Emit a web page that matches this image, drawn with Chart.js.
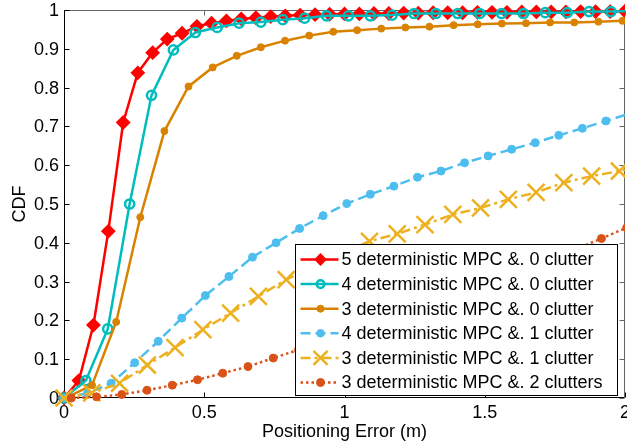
<!DOCTYPE html>
<html>
<head>
<meta charset="utf-8">
<script src="https://cdn.jsdelivr.net/npm/chart.js@4.4.1/dist/chart.umd.min.js"></script>
<style>
html, body { margin: 0; padding: 0; background: #fff; }
</style>
</head>
<body>
<canvas id="cdfChart" width="627" height="447"></canvas>
<script>
// axis ticks
const xTicks = [0, 0.5, 1, 1.5, 2];
const xTickLabels = ['0', '0.5', '1', '1.5', '2'];
const yTicks = [0, 0.1, 0.2, 0.3, 0.4, 0.5, 0.6, 0.7, 0.8, 0.9, 1];
const yTickLabels = ['0', '0.1', '0.2', '0.3', '0.4', '0.5', '0.6', '0.7', '0.8', '0.9', '1'];

const seriesNames = [
    '5 deterministic MPC &. 0 clutter',
    '4 deterministic MPC &. 0 clutter',
    '3 deterministic MPC &. 0 clutter',
    '4 deterministic MPC &. 1 clutter',
    '3 deterministic MPC &. 1 clutter',
    '3 deterministic MPC &. 2 clutters',
];

// 5 det MPC, 0 clutter
const x5d0c = [0, 0.053, 0.105, 0.158, 0.211, 0.263, 0.316, 0.368, 0.421, 0.474, 0.526, 0.579, 0.632, 0.684, 0.737, 0.789, 0.842, 0.895, 0.947, 1.0,
    1.053, 1.105, 1.158, 1.211, 1.263, 1.316, 1.368, 1.421, 1.474, 1.526, 1.579, 1.632, 1.684, 1.737, 1.789, 1.842, 1.895, 1.947, 2.0];
const y5d0c = [0, 0.045, 0.188, 0.43, 0.71, 0.838, 0.89, 0.925, 0.94, 0.958, 0.966, 0.972, 0.977, 0.98, 0.983, 0.985, 0.987, 0.988, 0.989, 0.99,
    0.99, 0.991, 0.991, 0.992, 0.992, 0.993, 0.993, 0.993, 0.994, 0.994, 0.994, 0.995, 0.995, 0.995, 0.995, 0.996, 0.996, 0.996, 0.997];

// 4 det MPC, 0 clutter
const x4d0c = [0, 0.078, 0.156, 0.234, 0.312, 0.39, 0.468, 0.546, 0.624, 0.702, 0.78, 0.858, 0.936, 1.014, 1.092, 1.17, 1.248, 1.326,
    1.404, 1.482, 1.56, 1.638, 1.716, 1.794, 1.872, 1.95, 2.028];
const y4d0c = [0, 0.045, 0.178, 0.5, 0.78, 0.897, 0.942, 0.955, 0.966, 0.969, 0.975, 0.979, 0.985, 0.985, 0.985, 0.987, 0.991, 0.991,
    0.991, 0.991, 0.991, 0.991, 0.993, 0.993, 0.996, 0.996, 0.997];

// 3 det MPC, 0 clutter
const x3d0c = [0.014, 0.1, 0.186, 0.272, 0.358, 0.444, 0.53, 0.616, 0.702, 0.788, 0.874, 0.96, 1.045, 1.131, 1.217, 1.303, 1.389, 1.475,
    1.561, 1.647, 1.733, 1.819, 1.905, 1.991];
const y3d0c = [0.003, 0.033, 0.196, 0.466, 0.688, 0.803, 0.852, 0.882, 0.904, 0.921, 0.934, 0.944, 0.948, 0.952, 0.955, 0.957, 0.961, 0.963,
    0.965, 0.966, 0.968, 0.968, 0.97, 0.972];

// 4 det MPC, 1 clutter
const x4d1c = [0, 0.084, 0.168, 0.252, 0.336, 0.42, 0.504, 0.588, 0.672, 0.756, 0.84, 0.924, 1.008, 1.092, 1.176, 1.26, 1.344, 1.428,
    1.512, 1.596, 1.68, 1.764, 1.848, 1.932, 2.016];
const y4d1c = [0, 0.012, 0.038, 0.091, 0.146, 0.206, 0.264, 0.313, 0.363, 0.4, 0.437, 0.47, 0.501, 0.525, 0.546, 0.569, 0.585, 0.606,
    0.624, 0.641, 0.658, 0.677, 0.695, 0.714, 0.733];

// 3 det MPC, 1 clutter
const x3d1c = [0, 0.099, 0.198, 0.297, 0.396, 0.495, 0.594, 0.693, 0.792, 0.891, 0.99, 1.089, 1.188, 1.287, 1.386, 1.485, 1.584, 1.683,
    1.782, 1.881, 1.98, 2.079];
const y3d1c = [0, 0.013, 0.038, 0.085, 0.13, 0.176, 0.219, 0.262, 0.305, 0.34, 0.372, 0.404, 0.423, 0.447, 0.473, 0.49, 0.512, 0.53,
    0.555, 0.572, 0.585, 0.6];

// 3 det MPC, 2 clutters
const x3d2c = [0.026, 0.116, 0.206, 0.296, 0.386, 0.476, 0.566, 0.656, 0.746, 0.836, 0.926, 1.016, 1.106, 1.196, 1.286, 1.376, 1.466,
    1.556, 1.646, 1.736, 1.826, 1.916, 2.006];
const y3d2c = [0, 0.003, 0.009, 0.02, 0.033, 0.047, 0.064, 0.081, 0.103, 0.124, 0.146, 0.168, 0.19, 0.213, 0.236, 0.259, 0.283,
    0.307, 0.332, 0.358, 0.384, 0.411, 0.439];

const FONT = "'Liberation Sans', Arial, sans-serif";

function pts(xs, ys) {
    return xs.map((x, i) => ({ x: x, y: ys[i] }));
}

function series(i, xs, ys, color, style, extra) {
    return Object.assign({
        label: seriesNames[i],
        data: pts(xs, ys),
        borderColor: color,
        backgroundColor: color,
        pointBorderColor: color,
        pointBackgroundColor: color,
        borderWidth: 2.5,
        pointStyle: style,
        pointRadius: 4,
        pointBorderWidth: 1,
        tension: 0,
        showLine: true,
        order: 5 - i,
        clip: { left: 14, top: 14, right: 0, bottom: 14 },
    }, extra || {});
}

const datasets = [
    series(0, x5d0c, y5d0c, '#ff0000', 'rectRot', { pointRadius: 6, pointBorderWidth: 2, legendRadius: 5 }),
    series(1, x4d0c, y4d0c, '#00bdbd', 'circle', { pointRadius: 4.6, pointBorderWidth: 2.5, pointBackgroundColor: 'rgba(0,0,0,0)', legendRadius: 3.8 }),
    series(2, x3d0c, y3d0c, '#d98200', 'circle', { pointRadius: 3.5, legendRadius: 3.5 }),
    series(3, x4d1c, y4d1c, '#4dbeee', 'circle', { pointRadius: 4, borderDash: [10, 5], legendRadius: 3.8 }),
    series(4, x3d1c, y3d1c, '#edb120', 'crossRot', { pointRadius: 12, pointBorderWidth: 2.5, borderDash: [10, 4, 3, 4], legendRadius: 10 }),
    series(5, x3d2c, y3d2c, '#d95319', 'circle', { pointRadius: 4, borderDash: [2.5, 3], legendRadius: 4 }),
];

function marker(ctx, style, x, y, r, fill, stroke, lw) {
    ctx.save();
    ctx.setLineDash([]);
    ctx.lineWidth = lw;
    ctx.strokeStyle = stroke;
    ctx.fillStyle = fill;
    ctx.beginPath();
    if (style === 'rectRot') {
        ctx.moveTo(x, y - r); ctx.lineTo(x + r, y); ctx.lineTo(x, y + r); ctx.lineTo(x - r, y); ctx.closePath();
        ctx.fill(); ctx.stroke();
    } else if (style === 'crossRot') {
        const d = r * Math.SQRT1_2;
        ctx.moveTo(x - d, y - d); ctx.lineTo(x + d, y + d);
        ctx.moveTo(x + d, y - d); ctx.lineTo(x - d, y + d);
        ctx.stroke();
    } else {
        ctx.arc(x, y, r, 0, Math.PI * 2);
        ctx.fill(); ctx.stroke();
    }
    ctx.restore();
}

// MATLAB style box with inward ticks and tick labels
const framePlugin = {
    id: 'frame',
    beforeDatasetsDraw(chart) {
        const { ctx, chartArea: a, scales } = chart;
        const L = Math.round(a.left) + 0.5, R = Math.round(a.right) - 0.5;
        const T = Math.round(a.top) + 0.5, B = Math.round(a.bottom) - 0.5;
        ctx.save();
        ctx.lineWidth = 1;
        ctx.strokeStyle = '#666';
        ctx.beginPath();
        ctx.moveTo(L, T); ctx.lineTo(R, T); ctx.lineTo(R, B);
        xTicks.forEach(v => { const px = Math.round(scales.x.getPixelForValue(v)) + 0.5; ctx.moveTo(px, T); ctx.lineTo(px, T + 5); });
        yTicks.forEach(v => { const py = Math.round(scales.y.getPixelForValue(v)) + 0.5; ctx.moveTo(R, py); ctx.lineTo(R - 5, py); });
        ctx.stroke();
        ctx.strokeStyle = '#000';
        ctx.beginPath();
        ctx.moveTo(L, T); ctx.lineTo(L, B); ctx.lineTo(R, B);
        xTicks.forEach(v => { const px = Math.round(scales.x.getPixelForValue(v)) + 0.5; ctx.moveTo(px, B); ctx.lineTo(px, B - 5); });
        yTicks.forEach(v => { const py = Math.round(scales.y.getPixelForValue(v)) + 0.5; ctx.moveTo(L, py); ctx.lineTo(L + 5, py); });
        ctx.stroke();

        ctx.fillStyle = '#000';
        ctx.font = '18px ' + FONT;
        ctx.textAlign = 'center';
        ctx.textBaseline = 'middle';
        xTicks.forEach((v, i) => ctx.fillText(xTickLabels[i], scales.x.getPixelForValue(v), a.bottom + 15));
        ctx.textAlign = 'right';
        yTicks.forEach((v, i) => ctx.fillText(yTickLabels[i], a.left - 5, scales.y.getPixelForValue(v) + 1));
        ctx.restore();
    },
};

// legend box inside the plot, lower right
const legendPlugin = {
    id: 'boxLegend',
    afterDraw(chart) {
        const { ctx, chartArea: a } = chart;
        const w = 322, h = 151;
        const left = Math.round(a.right - 8 - w) + 0.5;
        const top = Math.round(a.bottom - 3 - h) + 0.5;
        ctx.save();
        ctx.fillStyle = '#fff';
        ctx.fillRect(left, top, w, h);
        ctx.strokeStyle = '#000';
        ctx.lineWidth = 1;
        ctx.strokeRect(left, top, w, h);
        ctx.font = '18px ' + FONT;
        ctx.textBaseline = 'middle';
        chart.data.datasets.forEach((ds, i) => {
            const y = top + 15 + i * 24.6;
            ctx.save();
            ctx.strokeStyle = ds.borderColor;
            ctx.lineWidth = ds.borderWidth;
            ctx.setLineDash(ds.borderDash || []);
            ctx.beginPath();
            ctx.moveTo(left + 5, y);
            ctx.lineTo(left + 43, y);
            ctx.stroke();
            ctx.restore();
            marker(ctx, ds.pointStyle, left + 25, y, ds.legendRadius, ds.pointBackgroundColor, ds.pointBorderColor, ds.pointBorderWidth);
            ctx.fillStyle = '#000';
            ctx.fillText(ds.label, left + 46, y + 1);
        });
        ctx.restore();
    },
};

new Chart(document.getElementById('cdfChart'), {
    type: 'scatter',
    data: { datasets },
    options: {
        responsive: false,
        animation: false,
        devicePixelRatio: 1,
        layout: { autoPadding: false, padding: { top: 10, right: 2, left: 0, bottom: 0 } },
        plugins: { legend: { display: false }, tooltip: { enabled: false } },
        scales: {
            x: {
                type: 'linear', min: 0, max: 2,
                afterBuildTicks: s => { s.ticks = xTicks.map(v => ({ value: v })); },
                afterFit: s => { s.height = 49; },
                ticks: { display: false },
                grid: { display: false, drawTicks: false },
                border: { display: false },
                title: { display: true, text: 'Positioning Error (m)', color: '#000', font: { family: FONT, size: 18 }, padding: { top: 4, bottom: 4 } },
            },
            y: {
                type: 'linear', min: 0, max: 1,
                afterBuildTicks: s => { s.ticks = yTicks.map(v => ({ value: v })); },
                afterFit: s => { s.width = 64; },
                ticks: { display: false },
                grid: { display: false, drawTicks: false },
                border: { display: false },
                title: { display: true, text: 'CDF', color: '#000', font: { family: FONT, size: 18 }, padding: { top: 9, bottom: 0 } },
            },
        },
    },
    plugins: [framePlugin, legendPlugin],
});
</script>
</body>
</html>
